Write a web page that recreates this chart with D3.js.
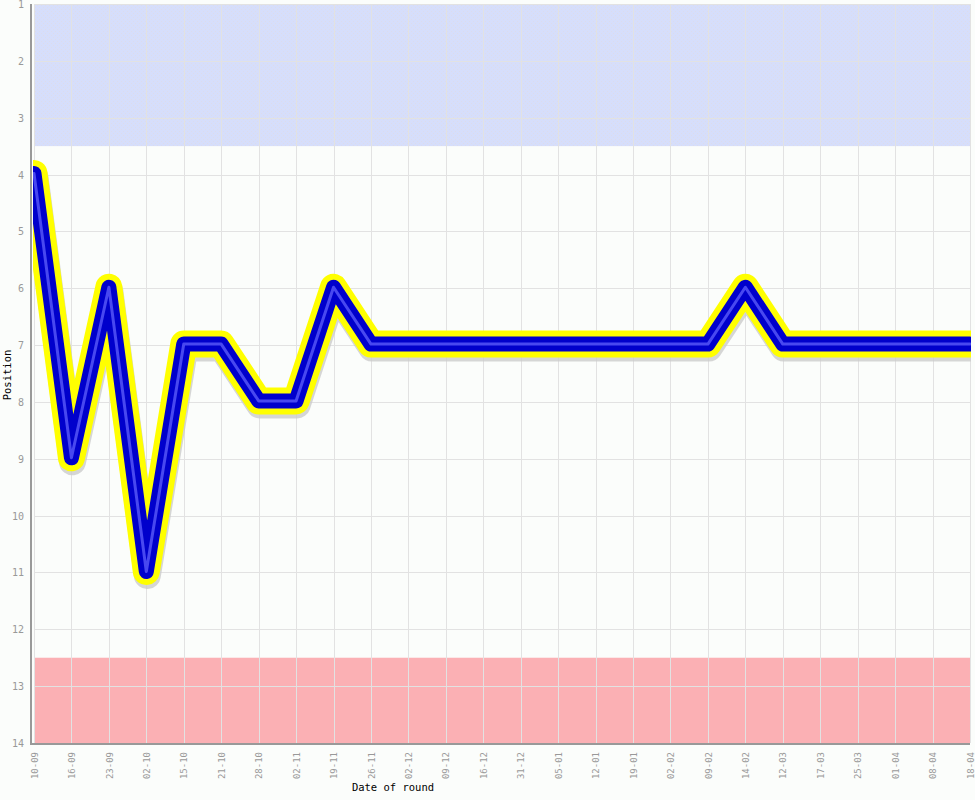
<!DOCTYPE html>
<html>
<head>
<meta charset="utf-8">
<script src="https://cdn.jsdelivr.net/npm/d3@7"></script>
<style>
html,body{margin:0;padding:0;background:#fbfdfb;}
svg{display:block;}
</style>
</head>
<body>
<svg id="chart" width="975" height="800"></svg>
<script>
const dates = ["10-09","16-09","23-09","02-10","15-10","21-10","28-10","02-11","19-11","26-11","02-12","09-12","16-12","31-12","05-01","12-01","19-01","02-02","09-02","14-02","12-03","17-03","25-03","01-04","08-04","18-04"];
const positions = [4,9,6,11,7,7,8,8,6,7,7,7,7,7,7,7,7,7,7,6,7,7,7,7,7,7];
const yTicks = [1,2,3,4,5,6,7,8,9,10,11,12,13,14];
const zones = [{from:1,to:3.5,color:"#d6defb"},{from:12.5,to:14,color:"#fbb0b4"}];

(function(){
const svg = d3.select("#chart");
const pl = 34, pr = 970, pt = 4, pb = 743;

const x = d3.scalePoint().domain(dates).range([pl, pr]);
const y = d3.scaleLinear().domain([1,14]).range([pt, pb]);

const defs = svg.append("defs");
defs.append("clipPath").attr("id","plotclip").append("rect")
  .attr("x",33).attr("y",0).attr("width",pr-33+1).attr("height",pb);
const pat = defs.append("pattern").attr("id","dots").attr("patternUnits","userSpaceOnUse")
  .attr("width",4).attr("height",4);
pat.append("rect").attr("width",4).attr("height",4).attr("fill","#d6defb");
pat.append("rect").attr("x",1).attr("y",1).attr("width",1).attr("height",1).attr("fill","#dcdcec");
pat.append("rect").attr("x",3).attr("y",3).attr("width",1).attr("height",1).attr("fill","#dcdcec");

svg.append("rect").attr("width",975).attr("height",800).attr("fill","#fbfdfb");

// zones
svg.selectAll("rect.zone").data(zones).join("rect")
  .attr("class","zone")
  .attr("x", pl).attr("width", pr-pl)
  .attr("y", d=>y(d.from)).attr("height", d=>y(d.to)-y(d.from))
  .attr("fill", (d,i)=> i===0 ? "url(#dots)" : d.color);

// grid
const gx = svg.append("g").attr("transform",`translate(0,${pb})`)
  .call(d3.axisBottom(x).tickSize(-(pb-pt)).tickFormat(""));
gx.select(".domain").remove();
gx.selectAll("line").attr("stroke","#e2e2e2").attr("stroke-width",1).attr("shape-rendering","crispEdges");

const gy = svg.append("g").attr("transform",`translate(${pl},0)`)
  .call(d3.axisLeft(y).tickValues(yTicks).tickSize(-(pr-pl)).tickFormat(""));
gy.select(".domain").remove();
gy.selectAll("line").attr("stroke","#e2e2e2").attr("stroke-width",1).attr("shape-rendering","crispEdges");

// line
const line = d3.line().x((d,i)=>x(dates[i])).y(d=>y(d));
const pts = positions;
const lg = svg.append("g").attr("clip-path","url(#plotclip)").attr("transform","translate(0,-1)");
lg.append("path").attr("d",line(pts)).attr("transform","translate(1,4)")
  .attr("fill","none").attr("stroke","#cccccc").attr("stroke-width",27).attr("stroke-linejoin","round").attr("stroke-linecap","round").attr("opacity",0.8);
lg.append("path").attr("d",line(pts))
  .attr("fill","none").attr("stroke","#ffff00").attr("stroke-width",27).attr("stroke-linejoin","round").attr("stroke-linecap","round");
lg.append("path").attr("d",line(pts))
  .attr("fill","none").attr("stroke","#0000cc").attr("stroke-width",15).attr("stroke-linejoin","round").attr("stroke-linecap","round");
lg.append("path").attr("d",line(pts))
  .attr("fill","none").attr("stroke","#4848f0").attr("stroke-width",3).attr("stroke-linejoin","round").attr("stroke-linecap","round");

// axis lines
svg.append("line").attr("x1",31).attr("x2",31).attr("y1",pt).attr("y2",pb+1)
  .attr("stroke","#999").attr("stroke-width",2).attr("shape-rendering","crispEdges");
svg.append("line").attr("x1",30).attr("x2",pr).attr("y1",pb+0.5).attr("y2",pb+0.5)
  .attr("stroke","#999").attr("stroke-width",2).attr("shape-rendering","crispEdges");

// tick labels
const ay = svg.append("g").attr("transform",`translate(24,0)`)
  .call(d3.axisLeft(y).tickValues(yTicks).tickSize(0).tickPadding(0));
ay.select(".domain").remove();
ay.selectAll("text").attr("font-family","DejaVu Sans Mono, monospace").attr("font-size",10).attr("fill","#999").attr("dy","0.35em");

const ax = svg.append("g").attr("transform",`translate(0,${pb+9})`)
  .call(d3.axisBottom(x).tickSize(0).tickPadding(0));
ax.select(".domain").remove();
ax.selectAll("text")
  .attr("font-family","DejaVu Sans Mono, monospace").attr("font-size",9).attr("fill","#999")
  .attr("text-anchor","end").attr("dy","0.35em").attr("y",0)
  .attr("transform","rotate(-90)");

// axis titles
svg.append("text").attr("x",393).attr("y",791).attr("text-anchor","middle")
  .attr("font-family","DejaVu Sans Mono, monospace").attr("font-size",10.5).attr("fill","#000").text("Date of round");
svg.append("text").attr("transform","translate(11,375) rotate(-90)").attr("text-anchor","middle")
  .attr("font-family","DejaVu Sans Mono, monospace").attr("font-size",10.5).attr("fill","#000").text("Position");
})();
</script>
</body>
</html>
